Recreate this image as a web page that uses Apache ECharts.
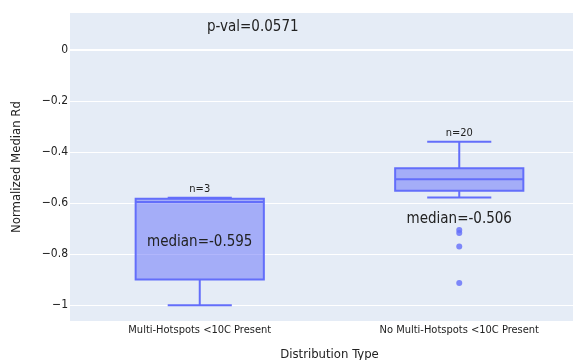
<!DOCTYPE html>
<html>
<head>
<meta charset="utf-8">
<script src="https://cdn.jsdelivr.net/npm/echarts@6/dist/echarts.min.js"></script>
<style>html,body{margin:0;padding:0;background:#fff}#c{width:573px;height:360px}</style>
</head>
<body>
<div id="c"></div>
<script>
const categories = ['Multi-Hotspots <10C Present', 'No Multi-Hotspots <10C Present'];
const whiskerLow = [-1.0, -0.578];
const q1 = [-0.899, -0.551];
const medians = [-0.595, -0.506];
const q3 = [-0.583, -0.463];
const whiskerHigh = [-0.579, -0.359];
const counts = [3, 20];
const medianLabels = ['median=-0.595', 'median=-0.506'];
const outlierCat = [1, 1, 1, 1];
const outlierVal = [-0.705, -0.717, -0.770, -0.913];
const yTicks = [0, -0.2, -0.4, -0.6, -0.8, -1];
const pValText = 'p-val=0.0571';

const FONT = 'DejaVu Sans Condensed, DejaVu Sans';
const LINE = '#636efa';
const FILL = 'rgba(99,110,250,0.5)';
const TXT = '#222222';

const boxData = categories.map((c, i) => [i, whiskerLow[i], q1[i], medians[i], q3[i], whiskerHigh[i], counts[i]]);
const outliers = outlierCat.map((c, i) => [c, outlierVal[i]]);

function fmt(v) {
  if (Math.abs(v) < 1e-9) return '0';
  return (v < 0 ? '\u2212' : '') + String(Math.abs(Math.round(v * 10) / 10));
}

const chart = echarts.init(document.getElementById('c'), null, {renderer: 'canvas'});
chart.setOption({
  animation: false,
  backgroundColor: '#ffffff',
  title: {
    text: pValText, left: 202, top: 15,
    textStyle: {fontFamily: FONT, fontSize: 15, fontWeight: 'normal', color: TXT}
  },
  grid: {left: 70, top: 13, width: 519, height: 308, show: true, backgroundColor: '#e5ecf6', borderWidth: 0, outerBoundsMode: 'none', containLabel: false},
  xAxis: {
    type: 'category', data: categories,
    name: 'Distribution Type', nameLocation: 'middle', nameGap: 27,
    nameTextStyle: {fontFamily: FONT, fontSize: 13, color: TXT},
    axisLine: {show: false}, axisTick: {show: false},
    axisLabel: {fontFamily: FONT, fontSize: 11, color: TXT, margin: 4},
    splitLine: {show: false}
  },
  yAxis: {
    type: 'value', min: -1.0615, max: 0.145,
    name: 'Normalized Median Rd', nameLocation: 'middle', nameGap: 47,
    nameTextStyle: {fontFamily: FONT, fontSize: 13, color: TXT},
    axisLine: {show: false}, axisTick: {show: false, customValues: yTicks},
    axisLabel: {fontFamily: FONT, fontSize: 12, color: TXT, margin: 2, customValues: yTicks, formatter: fmt},
    splitLine: {show: true, lineStyle: {color: '#ffffff', width: 1}}
  },
  series: [
    {
      type: 'line', data: [], silent: true,
      markLine: {silent: true, symbol: ['none', 'none'], label: {show: false},
        lineStyle: {color: '#ffffff', width: 2, type: 'solid'}, data: [{yAxis: 0}]}
    },
    {
      type: 'custom',
      data: boxData,
      encode: {x: 0, y: [1, 2, 3, 4, 5]},
      renderItem: function (params, api) {
        const i = api.value(0);
        const bw = api.size([1, 0])[0] * 0.494;
        const half = bw / 2;
        const cx = api.coord([i, 0])[0];
        const yLo = api.coord([i, api.value(1)])[1];
        const yQ1 = api.coord([i, api.value(2)])[1];
        const yMed = api.coord([i, api.value(3)])[1];
        const yQ3 = api.coord([i, api.value(4)])[1];
        const yHi = api.coord([i, api.value(5)])[1];
        const ls = {stroke: LINE, lineWidth: 2};
        return {
          type: 'group',
          children: [
            {type: 'rect', shape: {x: cx - half, y: yQ3, width: bw, height: yQ1 - yQ3}, style: {fill: FILL, stroke: LINE, lineWidth: 2}},
            {type: 'line', shape: {x1: cx - half, y1: yMed, x2: cx + half, y2: yMed}, style: ls},
            {type: 'line', shape: {x1: cx, y1: yQ3, x2: cx, y2: yHi}, style: ls},
            {type: 'line', shape: {x1: cx, y1: yQ1, x2: cx, y2: yLo}, style: ls},
            {type: 'line', shape: {x1: cx - half / 2, y1: yHi, x2: cx + half / 2, y2: yHi}, style: ls},
            {type: 'line', shape: {x1: cx - half / 2, y1: yLo, x2: cx + half / 2, y2: yLo}, style: ls},
            {type: 'text', x: cx, y: yHi - 9, style: {text: 'n=' + api.value(6), fill: TXT, font: '11px "DejaVu Sans Condensed", "DejaVu Sans"', textAlign: 'center', textVerticalAlign: 'middle'}},
            {type: 'text', x: cx, y: yMed + 40, style: {text: medianLabels[i], fill: TXT, font: '15px "DejaVu Sans Condensed", "DejaVu Sans"', textAlign: 'center', textVerticalAlign: 'middle'}}
          ]
        };
      }
    },
    {
      type: 'scatter', data: outliers, symbol: 'circle', symbolSize: 6,
      itemStyle: {color: LINE}, silent: true
    }
  ]
});
</script>
</body>
</html>
